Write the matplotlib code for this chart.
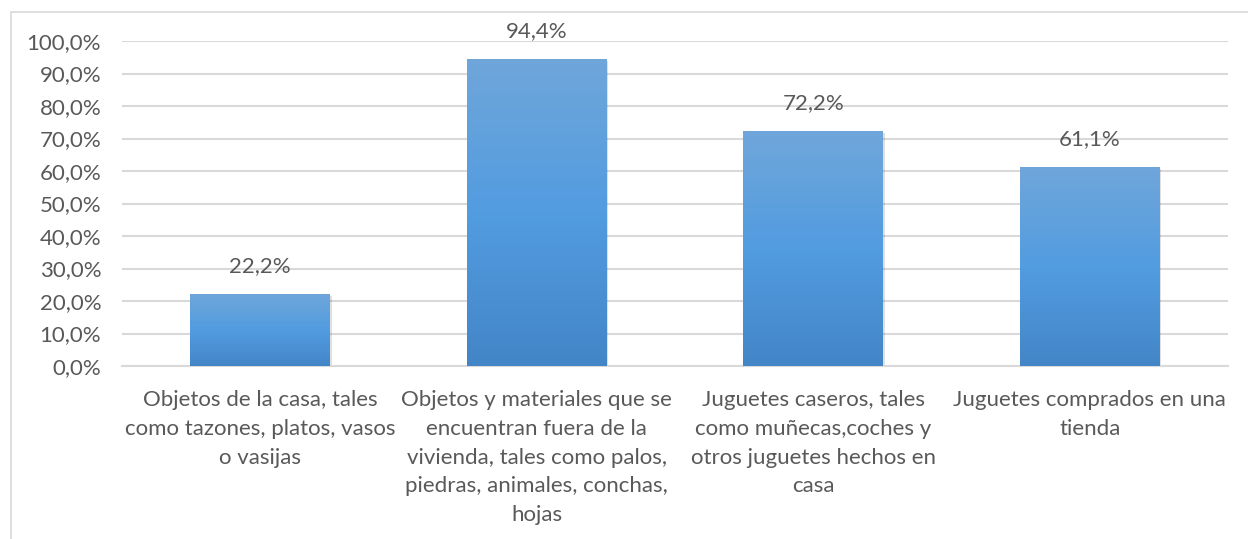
import numpy as np
import matplotlib.pyplot as plt
from matplotlib.patches import Rectangle
from matplotlib.colors import LinearSegmentedColormap

# data
categories = [
    "Objetos de la casa, tales\ncomo tazones, platos, vasos\no vasijas",
    "Objetos y materiales que se\nencuentran fuera de la\nvivienda, tales como palos,\npiedras, animales, conchas,\nhojas",
    "Juguetes caseros, tales\ncomo muñecas,coches y\notros juguetes hechos en\ncasa",
    "Juguetes comprados en una\ntienda",
]
values = [22.2, 94.4, 72.2, 61.1]
yticks = [0, 10, 20, 30, 40, 50, 60, 70, 80, 90, 100]

plt.rcParams['font.family'] = ['Lato', 'DejaVu Sans']
txt = '#595959'
fs = 16

fig = plt.figure(figsize=(12.48, 5.39), dpi=100)
ax = fig.add_axes([122/1248, 1 - 366/539, (1228-122)/1248, (366-41)/539])

# outer chart frame (cut off at right and bottom like the source)
fig.patches.append(Rectangle((11/1248, -0.1), 1.2, 1 - 12/539 + 0.1,
                             transform=fig.transFigure, fill=False,
                             edgecolor='#d9d9d9', linewidth=1.2))

x = np.arange(len(values))
bars = ax.bar(x, values, width=0.506, color='none', zorder=3)

grad = LinearSegmentedColormap.from_list('g', ['#4386c8', '#529ce0', '#6fa6da'])
for b in bars:
    x0, y0 = b.get_x(), b.get_y()
    w, h = b.get_width(), b.get_height()
    # faint shadow
    ax.add_patch(Rectangle((x0 + 0.006, y0 - 0.6), w, h, facecolor='#000000',
                           alpha=0.12, edgecolor='none', zorder=2))
    im = ax.imshow(np.linspace(0, 1, 100).reshape(-1, 1), cmap=grad,
                   extent=[x0, x0 + w, y0, y0 + h], origin='lower',
                   aspect='auto', zorder=3)
    im.set_clip_path(b)

for xi, v in zip(x, values):
    ax.text(xi, v + 5.6, ('%.1f%%' % v).replace('.', ','), ha='center',
            va='bottom', fontsize=fs, color=txt)

ax.set_xlim(-0.5, len(values) - 0.5)
ax.set_ylim(0, 100)
ax.set_yticks(yticks)
ax.set_yticklabels([('%.1f%%' % t).replace('.', ',') for t in yticks],
                   fontsize=fs, color=txt)
ax.set_xticks(x)
ax.set_xticklabels(categories, fontsize=fs, color=txt, linespacing=1.56,
                   va='top')
ax.tick_params(axis='both', length=0)
ax.tick_params(axis='y', pad=15)
ax.tick_params(axis='x', pad=17)
ax.grid(axis='y', color='#d9d9d9', linewidth=1.5, zorder=0)
ax.set_axisbelow(True)
for s in ['top', 'right', 'left']:
    ax.spines[s].set_visible(False)
ax.spines['bottom'].set_color('#d9d9d9')
ax.spines['bottom'].set_linewidth(1.5)

fig.savefig('out.png', dpi=100)
